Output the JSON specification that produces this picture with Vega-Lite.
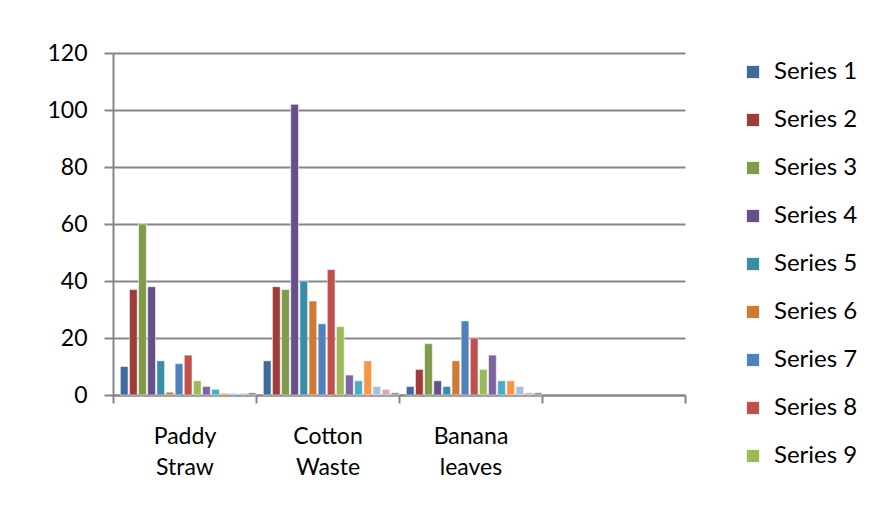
{
  "$schema": "https://vega.github.io/schema/vega-lite/v6.json",
  "autosize": "none",
  "width": 572,
  "height": 342,
  "padding": {"left": 113, "top": 53, "right": 197, "bottom": 116},
  "background": "white",
  "config": {
    "view": {"stroke": null},
    "font": "Lato",
    "axis": {"labelFont": "Lato", "labelFontSize": 23, "labelColor": "#000000"}
  },
  "data": {
    "values": [
      {"cat": "Paddy Straw", "series": "Series 1", "value": 10},
      {"cat": "Paddy Straw", "series": "Series 2", "value": 37},
      {"cat": "Paddy Straw", "series": "Series 3", "value": 60},
      {"cat": "Paddy Straw", "series": "Series 4", "value": 38},
      {"cat": "Paddy Straw", "series": "Series 5", "value": 12},
      {"cat": "Paddy Straw", "series": "Series 6", "value": 1},
      {"cat": "Paddy Straw", "series": "Series 7", "value": 11},
      {"cat": "Paddy Straw", "series": "Series 8", "value": 14},
      {"cat": "Paddy Straw", "series": "Series 9", "value": 5},
      {"cat": "Paddy Straw", "series": "Series 10", "value": 3},
      {"cat": "Paddy Straw", "series": "Series 11", "value": 2},
      {"cat": "Paddy Straw", "series": "Series 12", "value": 0.6},
      {"cat": "Paddy Straw", "series": "Series 13", "value": 0.6},
      {"cat": "Paddy Straw", "series": "Series 14", "value": 0.6},
      {"cat": "Paddy Straw", "series": "Series 15", "value": 0.8},
      {"cat": "Cotton Waste", "series": "Series 1", "value": 12},
      {"cat": "Cotton Waste", "series": "Series 2", "value": 38},
      {"cat": "Cotton Waste", "series": "Series 3", "value": 37},
      {"cat": "Cotton Waste", "series": "Series 4", "value": 102},
      {"cat": "Cotton Waste", "series": "Series 5", "value": 40},
      {"cat": "Cotton Waste", "series": "Series 6", "value": 33},
      {"cat": "Cotton Waste", "series": "Series 7", "value": 25},
      {"cat": "Cotton Waste", "series": "Series 8", "value": 44},
      {"cat": "Cotton Waste", "series": "Series 9", "value": 24},
      {"cat": "Cotton Waste", "series": "Series 10", "value": 7},
      {"cat": "Cotton Waste", "series": "Series 11", "value": 5},
      {"cat": "Cotton Waste", "series": "Series 12", "value": 12},
      {"cat": "Cotton Waste", "series": "Series 13", "value": 3},
      {"cat": "Cotton Waste", "series": "Series 14", "value": 2},
      {"cat": "Cotton Waste", "series": "Series 15", "value": 0.8},
      {"cat": "Banana leaves", "series": "Series 1", "value": 3},
      {"cat": "Banana leaves", "series": "Series 2", "value": 9},
      {"cat": "Banana leaves", "series": "Series 3", "value": 18},
      {"cat": "Banana leaves", "series": "Series 4", "value": 5},
      {"cat": "Banana leaves", "series": "Series 5", "value": 3},
      {"cat": "Banana leaves", "series": "Series 6", "value": 12},
      {"cat": "Banana leaves", "series": "Series 7", "value": 26},
      {"cat": "Banana leaves", "series": "Series 8", "value": 20},
      {"cat": "Banana leaves", "series": "Series 9", "value": 9},
      {"cat": "Banana leaves", "series": "Series 10", "value": 14},
      {"cat": "Banana leaves", "series": "Series 11", "value": 5},
      {"cat": "Banana leaves", "series": "Series 12", "value": 5},
      {"cat": "Banana leaves", "series": "Series 13", "value": 3},
      {"cat": "Banana leaves", "series": "Series 14", "value": 0.8},
      {"cat": "Banana leaves", "series": "Series 15", "value": 0.8}
    ]
  },
  "mark": {"type": "bar", "stroke": "#ffffff", "strokeWidth": 0.8, "strokeOpacity": 0.7},
  "encoding": {
    "x": {
      "field": "cat",
      "type": "nominal",
      "title": null,
      "scale": {"domain": ["Paddy Straw", "Cotton Waste", "Banana leaves", " "], "paddingInner": 0, "paddingOuter": 0},
      "axis": {
        "labelAngle": 0,
        "labelExpr": "datum.value ? split(datum.value, ' ') : ''",
        "labelLineHeight": 31,
        "labelPadding": 22,
        "labelBaseline": "top",
        "tickBand": "extent",
        "tickSize": 8,
        "tickWidth": 2,
        "tickColor": "#868686",
        "domainColor": "#868686",
        "domainWidth": 2
      }
    },
    "xOffset": {
      "field": "series",
      "type": "nominal",
      "scale": {
        "domain": ["Series 1", "Series 2", "Series 3", "Series 4", "Series 5", "Series 6", "Series 7", "Series 8", "Series 9", "Series 10", "Series 11", "Series 12", "Series 13", "Series 14", "Series 15"],
        "paddingInner": 0.15,
        "paddingOuter": 0.4,
        "align": 1
      }
    },
    "y": {
      "field": "value",
      "type": "quantitative",
      "title": null,
      "scale": {"domain": [0, 120], "nice": false},
      "axis": {
        "values": [0, 20, 40, 60, 80, 100, 120],
        "grid": true,
        "gridColor": "#868686",
        "gridWidth": 2,
        "domainColor": "#868686",
        "domainWidth": 2,
        "tickColor": "#868686",
        "tickWidth": 2,
        "tickSize": 9,
        "labelPadding": 17
      }
    },
    "color": {
      "field": "series",
      "type": "nominal",
      "scale": {
        "domain": ["Series 1", "Series 2", "Series 3", "Series 4", "Series 5", "Series 6", "Series 7", "Series 8", "Series 9", "Series 10", "Series 11", "Series 12", "Series 13", "Series 14", "Series 15"],
        "range": ["#3F6A9C", "#9E3D3A", "#7F9A48", "#67508A", "#3A8DA5", "#D07B35", "#4F81BD", "#C0504D", "#9BBB59", "#8064A2", "#4BACC6", "#F79646", "#A9BEDD", "#DFA7A6", "#8A8A8A"]
      },
      "legend": {
        "title": null,
        "values": ["Series 1", "Series 2", "Series 3", "Series 4", "Series 5", "Series 6", "Series 7", "Series 8", "Series 9"],
        "orient": "none",
        "legendX": 628,
        "legendY": 7,
        "symbolType": "square",
        "symbolSize": 150,
        "symbolStrokeWidth": 0,
        "labelFont": "Lato",
        "labelFontSize": 24,
        "labelColor": "#000000",
        "labelOffset": 9,
        "rowPadding": 24
      }
    }
  }
}
